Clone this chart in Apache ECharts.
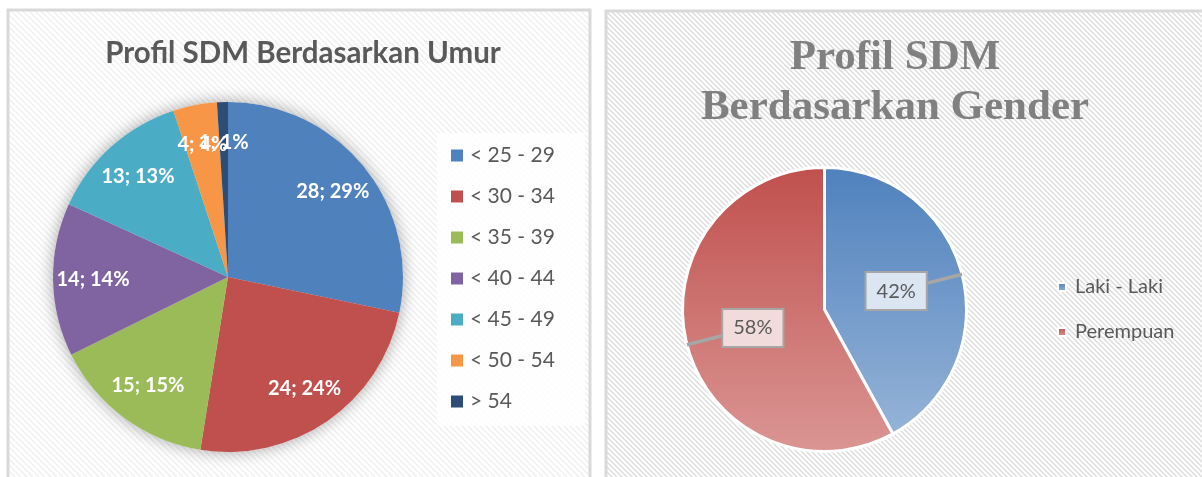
<!DOCTYPE html>
<html>
<head>
<meta charset="utf-8">
<script src="https://cdn.jsdelivr.net/npm/echarts@6/dist/echarts.min.js"></script>
<style>
  html, body { margin: 0; padding: 0; background: #fff; }
  #chart { width: 1202px; height: 477px; }
</style>
</head>
<body>
<div id="chart"></div>
<script>
// data
const ageNames = ['< 25 - 29', '< 30 - 34', '< 35 - 39', '< 40 - 44', '< 45 - 49', '< 50 - 54', '> 54'];
const ageValues = [28, 24, 15, 14, 13, 4, 1];
const agePct = [29, 24, 15, 14, 13, 4, 1]; // as printed on the slices
const ageColors = ['#4f81bd', '#c0504d', '#9bbb59', '#8064a2', '#4bacc6', '#f79646', '#2c4d75'];

const genderNames = ['Laki - Laki', 'Perempuan'];
const genderValues = [42, 58];
const genderTop = ['#4f81bd', '#c0504d'];
const genderBottom = ['#95b3d7', '#da9694'];
const genderBox = ['#dce6f2', '#f2dcdb'];

const R_AGE = 175;
const R_GENDER = 142;
const AGE_CENTER = [228, 277];
const GENDER_CENTER = [824.5, 309.5];

const chart = echarts.init(document.getElementById('chart'));

// diagonal hatch used as panel background
function hatch(color, step) {
  const c = document.createElement('canvas');
  c.width = step;
  c.height = step;
  const ctx = c.getContext('2d');
  ctx.fillStyle = '#fff';
  ctx.fillRect(0, 0, step, step);
  ctx.strokeStyle = color;
  ctx.lineWidth = 1.4;
  ctx.beginPath();
  ctx.moveTo(-1, -1); ctx.lineTo(step + 1, step + 1);
  ctx.moveTo(-1, step - 1); ctx.lineTo(1, step + 1);
  ctx.moveTo(step - 1, -1); ctx.lineTo(step + 1, 1);
  ctx.stroke();
  return { image: c, repeat: 'repeat' };
}

const ageData = ageNames.map((n, i) => ({ name: n, value: ageValues[i], itemStyle: { color: ageColors[i] } }));
const agePlain = ageNames.map((n, i) => ({ name: n, value: ageValues[i] }));

const genderData = genderNames.map((n, i) => ({
  name: n,
  value: genderValues[i],
  itemStyle: {
    color: {
      type: 'linear', x: 0, y: 0, x2: 0, y2: 1,
      colorStops: [{ offset: 0, color: genderTop[i] }, { offset: 1, color: genderBottom[i] }]
    }
  }
}));
const genderPlain = genderNames.map((n, i) => ({ name: n, value: genderValues[i], label: { backgroundColor: genderBox[i] } }));

const clear = 'rgba(0,0,0,0)';

const option = {
  animation: false,
  graphic: [
    {
      type: 'rect', z: -10, silent: true,
      shape: { x: 8, y: 10, width: 582, height: 480 },
      style: { fill: hatch('#efefef', 6), stroke: '#d9d9d9', lineWidth: 3 }
    },
    {
      type: 'rect', z: -10, silent: true,
      shape: { x: 606, y: 11, width: 610, height: 480 },
      style: { fill: hatch('#dcdcdc', 5), stroke: '#d9d9d9', lineWidth: 3 }
    }
  ],
  title: [
    {
      text: 'Profil SDM Berdasarkan Umur',
      left: 298, top: 33, textAlign: 'center',
      textStyle: { fontFamily: 'Lato', fontWeight: 'bold', fontSize: 29.5, color: '#595959' }
    },
    {
      text: 'Profil SDM\nBerdasarkan Gender',
      left: 890, top: 28, textAlign: 'center',
      textStyle: { fontFamily: 'Liberation Serif', fontWeight: 'bold', fontSize: 43, lineHeight: 50, color: '#808080' }
    }
  ],
  legend: [
    {
      data: ageNames,
      orient: 'vertical',
      left: 437, top: 133,
      padding: [12, 30, 14, 14],
      icon: 'rect', itemWidth: 12, itemHeight: 12, itemGap: 20,
      backgroundColor: 'rgba(255,255,255,0.8)',
      textStyle: { fontFamily: 'Lato', fontSize: 21, lineHeight: 20, color: '#595959', padding: [0, 0, 0, 2] }
    },
    {
      data: genderNames,
      orient: 'vertical',
      left: 1052, top: 272,
      icon: 'rect', itemWidth: 8, itemHeight: 8, itemGap: 25,
      textStyle: { fontFamily: 'Lato', fontSize: 20, lineHeight: 20, color: '#595959', padding: [0, 0, 0, 4] }
    }
  ],
  series: [
    {
      name: 'Umur',
      type: 'pie',
      center: AGE_CENTER,
      radius: R_AGE,
      startAngle: 90,
      z: 3,
      silent: true,
      label: { show: false },
      labelLine: { show: false },
      data: ageData
    },
    {
      name: 'Gender',
      type: 'pie',
      center: GENDER_CENTER,
      radius: R_GENDER,
      startAngle: 90,
      z: 2,
      silent: true,
      itemStyle: { borderColor: '#fff', borderWidth: 3 },
      label: { show: false },
      labelLine: { show: false },
      data: genderData
    },
    {
      // soft shadow under the age pie
      name: 'UmurShadow',
      type: 'pie',
      center: AGE_CENTER,
      radius: R_AGE,
      startAngle: 90,
      z: 1,
      silent: true,
      itemStyle: { color: '#fff', shadowBlur: 16, shadowColor: 'rgba(0,0,0,0.35)' },
      label: { show: false },
      labelLine: { show: false },
      data: agePlain
    },
    {
      // carries the slice labels further out than the default inside spot
      name: 'UmurLabel',
      type: 'pie',
      center: AGE_CENTER,
      radius: [84, 180],
      startAngle: 90,
      z: 4,
      silent: true,
      avoidLabelOverlap: false,
      labelLayout: { hideOverlap: false },
      itemStyle: { color: clear },
      label: {
        show: true,
        position: 'inside',
        formatter: p => ageValues[p.dataIndex] + '; ' + agePct[p.dataIndex] + '%',
        color: '#fff',
        fontFamily: 'Lato',
        fontWeight: 'bold',
        fontSize: 20
      },
      labelLine: { show: false },
      data: agePlain
    },
    {
      // callout pointers: from half radius out to the rim
      name: 'GenderPointer',
      type: 'pie',
      center: GENDER_CENTER,
      radius: R_GENDER / 2,
      startAngle: 90,
      z: 5,
      silent: true,
      avoidLabelOverlap: false,
      itemStyle: { color: clear },
      label: { show: true, position: 'outside', formatter: ' ', fontSize: 1, distanceToLabelLine: 0 },
      labelLine: { show: true, length: R_GENDER / 2, length2: 0, minTurnAngle: 0, maxSurfaceAngle: 180, lineStyle: { color: '#a6a6a6', width: 3.5 } },
      data: genderPlain.map(d => ({ name: d.name, value: d.value }))
    },
    {
      // callout boxes at half radius
      name: 'GenderLabel',
      type: 'pie',
      center: GENDER_CENTER,
      radius: R_GENDER,
      startAngle: 90,
      z: 6,
      silent: true,
      percentPrecision: 0,
      itemStyle: { color: clear },
      label: {
        show: true,
        position: 'inside',
        formatter: '{d}%',
        color: '#595959',
        fontFamily: 'Lato',
        fontSize: 20,
        borderColor: '#a6a6a6',
        borderWidth: 2,
        padding: [9, 10, 7, 10]
      },
      labelLine: { show: false },
      data: genderPlain
    }
  ]
};

chart.setOption(option);
</script>
</body>
</html>
